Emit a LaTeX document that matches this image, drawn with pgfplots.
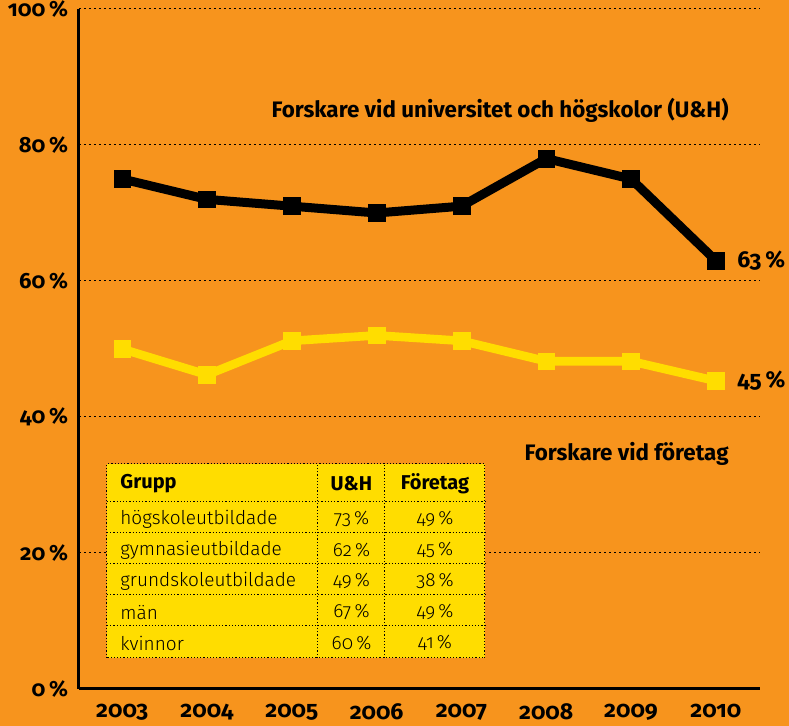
\documentclass[border=0pt]{standalone}
\usepackage{fontspec}
\setmainfont{Fira Sans}[Numbers=OldStyle]
\newfontfamily\lightfont{Fira Sans Light}[Numbers=OldStyle]
\usepackage{pgfplots}
\pgfplotsset{compat=1.18}
\definecolor{bgorange}{HTML}{F7941D}
\definecolor{lineyellow}{HTML}{FFDD00}
\begin{document}
\begin{tikzpicture}
\path[use as bounding box, fill=bgorange] (-39.5pt,-18.5pt) rectangle (355pt,344.5pt);
\begin{axis}[
  scale only axis,
  width=340.5pt, height=340pt,
  xmin=2002.49, xmax=2010.52,
  ymin=0, ymax=100,
  axis x line*=bottom, axis y line*=left,
  axis line style={line width=1.5pt, -},
  xtick={2003,...,2010},
  ytick={0,20,40,60,80,100},
  major tick length=0pt,
  ymajorgrids,
  grid style={black, line width=0.5pt, dash pattern=on 1pt off 1.5pt},
  /pgf/number format/assume math mode=true,
  xticklabel style={font=\bfseries\fontsize{11.5}{12}\selectfont, yshift=-4pt},
  yticklabel style={font=\bfseries\fontsize{11}{12}\selectfont, xshift=-2pt},
  xticklabel={\pgfmathprintnumber[1000 sep={}]{\tick}},
  yticklabel={\pgfmathprintnumber{\tick}\,\%},
  clip=false,
]
\addplot[black, line width=4.5pt, mark=square*, mark size=4.2pt, mark options={solid, line width=0.3pt}] coordinates {
(2003,75) (2004,72) (2005,71) (2006,70) (2007,71) (2008,78) (2009,75) (2010,63)};
\addplot[lineyellow, line width=4.3pt, mark=square*, mark size=4.2pt, mark options={solid, line width=0.3pt}] coordinates {
(2003,50) (2004,46.2) (2005,51.2) (2006,52) (2007,51.2) (2008,48.2) (2009,48.2) (2010,45.3)};
\node[anchor=west, inner sep=0pt, font=\bfseries\fontsize{11.5}{12}\selectfont] at (axis cs:2010,63) [xshift=10.5pt] {63\,\%};
\node[anchor=west, inner sep=0pt, font=\bfseries\fontsize{11.5}{12}\selectfont] at (axis cs:2010,45.3) [xshift=10.5pt] {45\,\%};
\end{axis}
\node[anchor=east, inner sep=0pt, font=\bfseries\fontsize{11.2}{12}\selectfont] at (325pt,289.5pt) {Forskare vid universitet och högskolor (U\&H)};
\node[anchor=east, inner sep=0pt, font=\bfseries\fontsize{11.2}{12}\selectfont] at (325pt,117.5pt) {Forskare vid företag};
% table
\fill[lineyellow] (14pt,15.5pt) rectangle (203pt,112.5pt);
\begin{scope}[black, line width=0.5pt, dash pattern=on 0.6pt off 1pt]
\draw (14pt,15.5pt) rectangle (203pt,112.5pt);
\foreach \y in {93.5,78,62.5,47,31.5} \draw (14pt,\y pt) -- (203pt,\y pt);
\draw (119.5pt,15.5pt) -- (119.5pt,112.5pt);
\draw (153pt,15.5pt) -- (153pt,112.5pt);
\end{scope}
\begin{scope}[font=\lightfont\fontsize{9.5}{10}\selectfont]
\node[anchor=west, inner sep=0pt, font=\bfseries\fontsize{10}{11}\selectfont] at (20.5pt,102.5pt) {Grupp};
\node[inner sep=0pt, font=\bfseries\fontsize{10}{11}\selectfont] at (136.25pt,102.5pt) {U\&H};
\node[inner sep=0pt, font=\bfseries\fontsize{10}{11}\selectfont] at (178pt,102.5pt) {Företag};
\foreach \g/\a/\b [count=\i] in {högskoleutbildade/73/49, gymnasieutbildade/62/45, grundskoleutbildade/49/38, män/67/49, kvinnor/60/41} {
  \pgfmathsetmacro{\yy}{93.5-15.5*\i+6.9}
  \node[anchor=west, inner sep=0pt] at (20.5pt,\yy pt) {\g};
  \node[inner sep=0pt] at (136.25pt,\yy pt) {\a\,\%};
  \node[inner sep=0pt] at (178pt,\yy pt) {\b\,\%};
}
\end{scope}
\end{tikzpicture}
\end{document}
